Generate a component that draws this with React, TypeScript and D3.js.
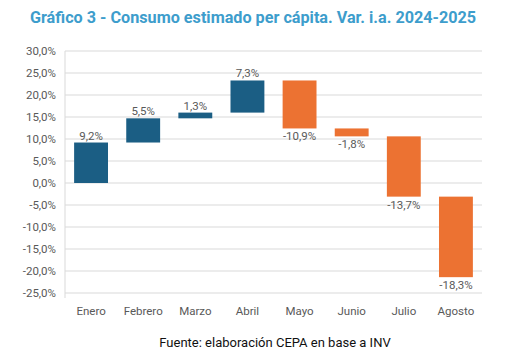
import React from "react";
import * as d3 from "d3";

const categories = ["Enero", "Febrero", "Marzo", "Abril", "Mayo", "Junio", "Julio", "Agosto"];
const changes = [9.2, 5.5, 1.3, 7.3, -10.9, -1.8, -13.7, -18.3];
const yTicks = [30, 25, 20, 15, 10, 5, 0, -5, -10, -15, -20, -25];

const W = 509, H = 355;
const margin = { left: 65, right: 27, top: 51, bottom: 62 };

const fmt = (v: number) => v.toFixed(1).replace(".", ",") + "%";

export default function App() {
  const x = d3.scaleBand().domain(categories).range([margin.left, W - margin.right]).paddingInner(0.35).paddingOuter(0.175);
  const y = d3.scaleLinear().domain([-25, 30]).range([H - margin.bottom, margin.top]);

  let acc = 0;
  const bars = changes.map((c, i) => {
    const start = acc;
    acc += c;
    return { cat: categories[i], start, end: acc, c };
  });

  const blue = "#1b5e84";
  const orange = "#ec7232";
  const gray = "#595959";

  return (
    <svg width={W} height={H} style={{ position: "absolute", left: 0, top: 0, background: "#fff" }}>
      <text x={253} y={23} textAnchor="middle" fontFamily="Roboto" fontWeight="bold" fontSize={16.2} fill="#3d9dcc">
        Gráfico 3 - Consumo estimado per cápita. Var. i.a. 2024-2025
      </text>
      {yTicks.map((t) => (
        <g key={t}>
          <line x1={margin.left} x2={W - margin.right} y1={y(t)} y2={y(t)} stroke="#d9d9d9" strokeWidth={1} />
          <text x={56} y={y(t)} dy="0.35em" textAnchor="end" fontFamily="Roboto" fontSize={11.5} fill={gray}>
            {fmt(t)}
          </text>
        </g>
      ))}
      <line x1={margin.left} x2={margin.left} y1={y(30)} y2={y(-25) + 5} stroke="#d9d9d9" />
      {bars.map((b) => {
        const top = y(Math.max(b.start, b.end));
        const bot = y(Math.min(b.start, b.end));
        const bx = x(b.cat)!;
        const cx = bx + x.bandwidth() / 2;
        return (
          <g key={b.cat}>
            <rect x={bx} y={top} width={x.bandwidth()} height={bot - top} fill={b.c >= 0 ? blue : orange} />
            <text
              x={cx}
              y={b.c >= 0 ? top - 3 : bot + 12}
              textAnchor="middle"
              fontFamily="Roboto"
              fontSize={11.5}
              fill={gray}
            >
              {fmt(b.c)}
            </text>
            <text x={cx} y={y(-25) + 22} textAnchor="middle" fontFamily="Roboto" fontSize={11.5} fill={gray}>
              {b.cat}
            </text>
          </g>
        );
      })}
      <text x={275} y={347} textAnchor="middle" fontFamily="Roboto" fontSize={13} fill="#111">
        Fuente: elaboración CEPA en base a INV
      </text>
    </svg>
  );
}
